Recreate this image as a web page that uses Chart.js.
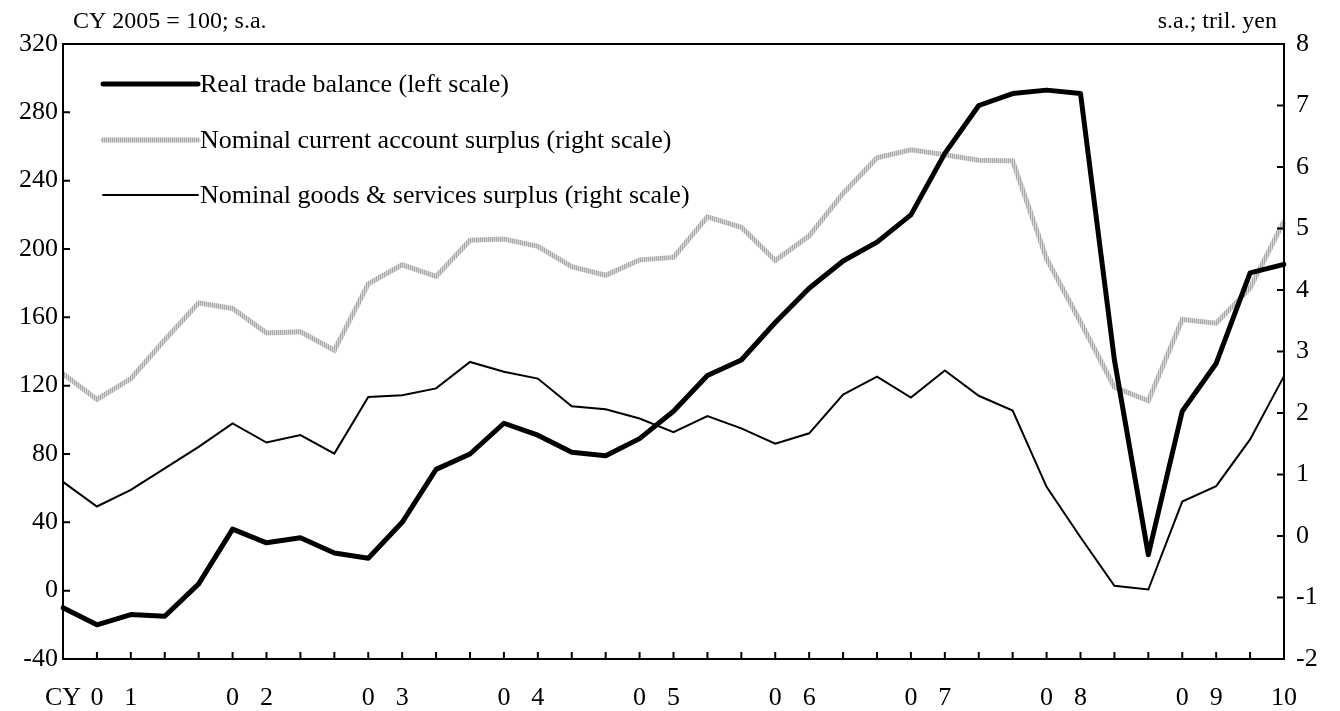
<!DOCTYPE html>
<html>
<head>
<meta charset="utf-8">
<script src="https://cdn.jsdelivr.net/npm/chart.js@4.4.1/dist/chart.umd.min.js"></script>
<style>
  html, body { margin: 0; padding: 0; background: #fff; }
  #wrap { width: 1340px; height: 711px; }
</style>
</head>
<body>
<div id="wrap"><canvas id="c" width="1340" height="711"></canvas></div>
<script>
// ---- Data (quarterly, 2001Q1 - 2010Q1) ----
const categories = [
  "2001Q1","2001Q2","2001Q3","2001Q4",
  "2002Q1","2002Q2","2002Q3","2002Q4",
  "2003Q1","2003Q2","2003Q3","2003Q4",
  "2004Q1","2004Q2","2004Q3","2004Q4",
  "2005Q1","2005Q2","2005Q3","2005Q4",
  "2006Q1","2006Q2","2006Q3","2006Q4",
  "2007Q1","2007Q2","2007Q3","2007Q4",
  "2008Q1","2008Q2","2008Q3","2008Q4",
  "2009Q1","2009Q2","2009Q3","2009Q4",
  "2010Q1"
];
const xTickLabels = [
  "CY","0","1","",
  "","0","2","",
  "","0","3","",
  "","0","4","",
  "","0","5","",
  "","0","6","",
  "","0","7","",
  "","0","8","",
  "","0","9","",
  "10"
];
// Real trade balance (left scale, CY2005=100)
const realTradeBalance = [
  -10, -20, -14, -15,
  4, 36, 28, 31,
  22, 19, 40, 71,
  80, 98, 91, 81,
  79, 89, 105, 126,
  135, 157, 177, 193,
  204, 220, 256, 284,
  291, 293, 291, 135,
  21, 105, 133, 186,
  191
];
// Nominal current account surplus (right scale, tril. yen)
const currentAccount = [
  2.64, 2.22, 2.56, 3.19,
  3.79, 3.70, 3.30, 3.32,
  3.02, 4.10, 4.41, 4.22,
  4.81, 4.83, 4.71, 4.38,
  4.24, 4.49, 4.53, 5.19,
  5.02, 4.48, 4.88, 5.57,
  6.15, 6.28, 6.20, 6.11,
  6.10, 4.51, 3.48, 2.42,
  2.20, 3.52, 3.46, 4.03,
  5.12
];
// Nominal goods & services surplus (right scale, tril. yen)
const goodsServices = [
  0.88, 0.48, 0.75, 1.10,
  1.45, 1.83, 1.52, 1.64,
  1.34, 2.26, 2.29, 2.40,
  2.83, 2.67, 2.56, 2.11,
  2.06, 1.91, 1.69, 1.95,
  1.75, 1.50, 1.67, 2.30,
  2.59, 2.25, 2.69, 2.28,
  2.04, 0.80, -0.02, -0.81,
  -0.87, 0.56, 0.81, 1.57,
  2.60
];
const seriesNames = [
  "Real trade balance (left scale)",
  "Nominal current account surplus (right scale)",
  "Nominal goods & services surplus (right scale)"
];
const leftTitle = "CY 2005 = 100; s.a.";
const rightTitle = "s.a.; tril. yen";

// ---- Styles ----
const FONT = "'Liberation Serif', 'Times New Roman', serif";
const FS = 26;       // tick labels
const FS_LEG = 26;   // legend
const FS_TITLE = 24; // unit titles

function makeHatch(c2d) {
  const p = document.createElement('canvas');
  p.width = 2; p.height = 2;
  const g = p.getContext('2d');
  g.fillStyle = '#a8a8a8'; g.fillRect(0, 0, 1, 2);
  g.fillStyle = '#d6d6d6'; g.fillRect(1, 0, 1, 2);
  return c2d.createPattern(p, 'repeat');
}
const ctx = document.getElementById('c').getContext('2d');
const hatch = makeHatch(ctx);

const frameAndTicks = {
  id: 'frameAndTicks',
  afterDraw(chart) {
    const c = chart.ctx, a = chart.chartArea;
    c.save();
    c.strokeStyle = '#000';
    c.lineWidth = 2;
    c.strokeRect(a.left, a.top, a.right - a.left, a.bottom - a.top);
    const L = 7;
    const yl = chart.scales.y, yr = chart.scales.y2, x = chart.scales.x;
    c.beginPath();
    yl.ticks.forEach((t, i) => { const p = yl.getPixelForTick(i); c.moveTo(a.left, p); c.lineTo(a.left + L, p); });
    yr.ticks.forEach((t, i) => { const p = yr.getPixelForTick(i); c.moveTo(a.right, p); c.lineTo(a.right - L, p); });
    x.ticks.forEach((t, i) => { const p = x.getPixelForTick(i); c.moveTo(p, a.bottom); c.lineTo(p, a.bottom - L); });
    c.stroke();
    // unit titles
    c.fillStyle = '#000';
    c.font = FS_TITLE + 'px ' + FONT;
    c.textBaseline = 'middle';
    c.textAlign = 'left';
    c.fillText(leftTitle, 73, 22);
    c.textAlign = 'right';
    c.fillText(rightTitle, 1277, 22);
    // legend inside plot
    const rows = [84, 140, 195];
    chart.data.datasets.forEach((ds, i) => {
      c.beginPath();
      c.strokeStyle = ds.borderColor;
      c.lineWidth = ds.borderWidth;
      c.lineCap = 'round';
      c.moveTo(103, rows[i]);
      c.lineTo(198, rows[i]);
      c.stroke();
      c.fillStyle = '#000';
      c.font = FS_LEG + 'px ' + FONT;
      c.textAlign = 'left';
      c.textBaseline = 'middle';
      c.fillText(ds.label, 200, rows[i] + 1);
    });
    c.restore();
  }
};

new Chart(ctx, {
  type: 'line',
  data: {
    labels: categories,
    datasets: [
      { label: seriesNames[0], data: realTradeBalance, yAxisID: 'y',
        borderColor: '#000', borderWidth: 5, pointRadius: 0, tension: 0,
        borderJoinStyle: 'round', borderCapStyle: 'round' },
      { label: seriesNames[1], data: currentAccount, yAxisID: 'y2',
        borderColor: hatch, borderWidth: 5, pointRadius: 0, tension: 0,
        borderJoinStyle: 'miter' },
      { label: seriesNames[2], data: goodsServices, yAxisID: 'y2',
        borderColor: '#000', borderWidth: 2, pointRadius: 0, tension: 0,
        borderJoinStyle: 'miter' }
    ]
  },
  options: {
    responsive: false,
    animation: false,
    devicePixelRatio: 1,
    layout: { padding: { top: 44, left: 0, right: 0, bottom: 0 } },
    plugins: { legend: { display: false }, tooltip: { enabled: false }, title: { display: false } },
    scales: {
      x: {
        type: 'category',
        offset: false,
        grid: { display: false, drawTicks: false },
        border: { display: false },
        ticks: {
          autoSkip: false, maxRotation: 0, minRotation: 0, padding: 24,
          color: '#000', font: { family: FONT, size: FS },
          callback: (v, i) => xTickLabels[i]
        },
        afterFit: s => { s.height = 52; }
      },
      y: {
        position: 'left', min: -40, max: 320,
        grid: { display: false, drawTicks: false },
        border: { display: false },
        ticks: { stepSize: 40, padding: 5, color: '#000', font: { family: FONT, size: FS } },
        afterFit: s => { s.width = 63; }
      },
      y2: {
        position: 'right', min: -2, max: 8,
        grid: { display: false, drawTicks: false },
        border: { display: false },
        ticks: { stepSize: 1, padding: 12, color: '#000', font: { family: FONT, size: FS } },
        afterFit: s => { s.width = 56; }
      }
    }
  },
  plugins: [frameAndTicks]
});
</script>
</body>
</html>
